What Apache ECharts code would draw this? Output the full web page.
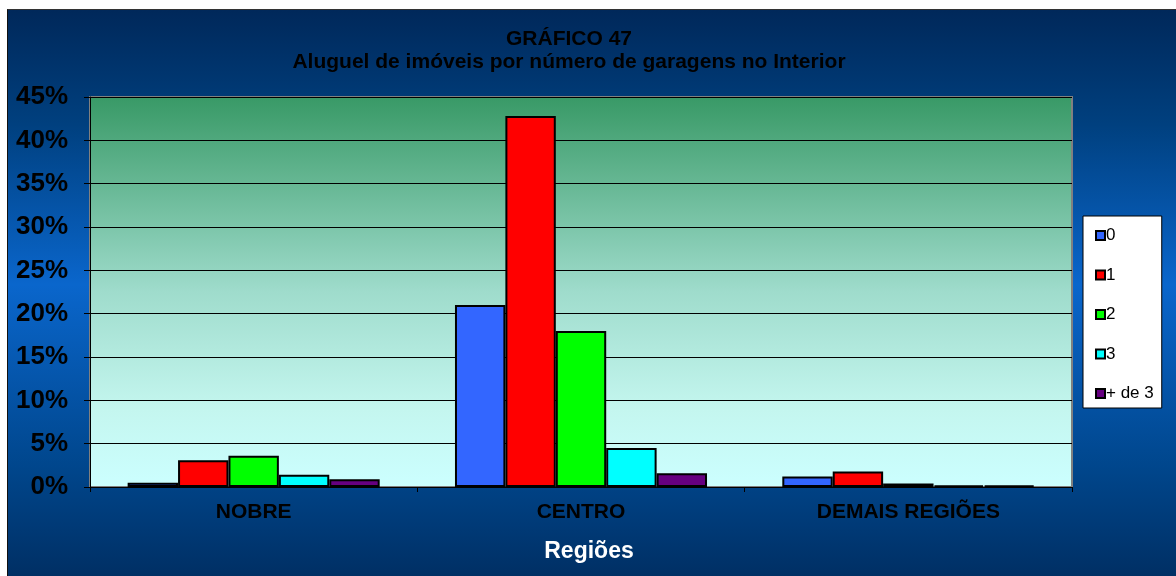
<!DOCTYPE html>
<html>
<head>
<meta charset="utf-8">
<script src="https://cdn.jsdelivr.net/npm/echarts@6/dist/echarts.min.js"></script>
<style>
    html, body { margin: 0; padding: 0; background: #ffffff; }
    #frame {
        position: absolute; left: 7px; top: 9px; width: 1175px; height: 572px;
        border-left: 1px solid #111; border-top: 1px solid #333;
    }
    #chart { width: 100%; height: 100%; }
</style>
</head>
<body>
<div id="frame"><div id="chart"></div></div>
<script type="text/javascript">
    // dados (%)
    var regioes = ['NOBRE', 'CENTRO', 'DEMAIS REGIÕES'];
    var garagens = ['0', '1', '2', '3', '+ de 3'];
    var g0 = [0.5, 21.0, 1.2];
    var g1 = [3.1, 42.8, 1.8];
    var g2 = [3.6, 18.0, 0.4];
    var g3 = [1.4, 4.5, 0.2];
    var gMais3 = [0.9, 1.6, 0.15];
    var cores = ['#3366ff', '#ff0000', '#00ff00', '#00ffff', '#660080'];

    var valores = [g0, g1, g2, g3, gMais3];
    var series = garagens.map(function (nome, i) {
        return {
            name: nome,
            type: 'bar',
            data: valores[i],
            barGap: '0%',
            barCategoryGap: '23%',
            itemStyle: { color: cores[i], borderColor: '#000', borderWidth: 2 }
        };
    });

    var chart = echarts.init(document.getElementById('chart'));
    chart.setOption({
        backgroundColor: {
            type: 'linear', x: 0, y: 0, x2: 0, y2: 1,
            colorStops: [
                { offset: 0, color: '#00285a' },
                { offset: 0.2, color: '#00407f' },
                { offset: 0.48, color: '#0a66cc' },
                { offset: 0.8, color: '#00468c' },
                { offset: 1, color: '#002e62' }
            ]
        },
        animation: false,
        title: {
            text: 'GRÁFICO 47\nAluguel de imóveis por número de garagens no Interior',
            left: 556, top: 13, textAlign: 'center',
            textStyle: { fontFamily: 'Liberation Sans', fontWeight: 'bold', fontSize: 21, color: '#000', lineHeight: 23 }
        },
        legend: {
            orient: 'vertical',
            left: 1075, top: 206,
            width: 94,
            padding: [11, 8, 6, 12],
            backgroundColor: '#fff',
            borderColor: '#000', borderWidth: 1,
            itemWidth: 9, itemHeight: 9, itemGap: 22.5,
            icon: 'rect',
            textStyle: { fontFamily: 'Liberation Sans', fontSize: 17, color: '#000', padding: [0, 0, 0, -4] },
            data: garagens
        },
        grid: { left: 82, top: 87, width: 982, height: 390, containLabel: false },
        xAxis: {
            type: 'category',
            data: regioes,
            name: 'Regiões',
            nameLocation: 'middle',
            nameGap: 53,
            nameTextStyle: { fontFamily: 'Liberation Sans', fontWeight: 'bold', fontSize: 23, color: '#fff', padding: [0, 0, 0, 16] },
            axisLine: { lineStyle: { color: '#000', width: 1 } },
            axisTick: { show: true, length: 5, lineStyle: { color: '#000' } },
            axisLabel: { fontFamily: 'Liberation Sans', fontWeight: 'bold', fontSize: 21, color: '#000', margin: 15 }
        },
        yAxis: {
            type: 'value',
            min: 0, max: 45, interval: 5,
            axisLine: { show: true, lineStyle: { color: '#000' } },
            axisTick: { show: true, length: 6, lineStyle: { color: '#000' } },
            axisLabel: { formatter: '{value}%', fontFamily: 'Liberation Sans', fontWeight: 'bold', fontSize: 26, color: '#000', margin: 22 },
            splitLine: { lineStyle: { color: '#000', width: 1 } }
        },
        graphic: [{
            type: 'rect',
            z: -1,
            shape: { x: 82, y: 87, width: 982, height: 390 },
            style: {
                fill: {
                    type: 'linear', x: 0, y: 0, x2: 0, y2: 1,
                    colorStops: [
                        { offset: 0, color: '#389966' },
                        { offset: 0.5, color: '#9fdccc' },
                        { offset: 0.8, color: '#c4f6ef' },
                        { offset: 1, color: '#ccffff' }
                    ]
                },
                stroke: '#808080', lineWidth: 2
            }
        }],
        series: series
    });
</script>
</body>
</html>
